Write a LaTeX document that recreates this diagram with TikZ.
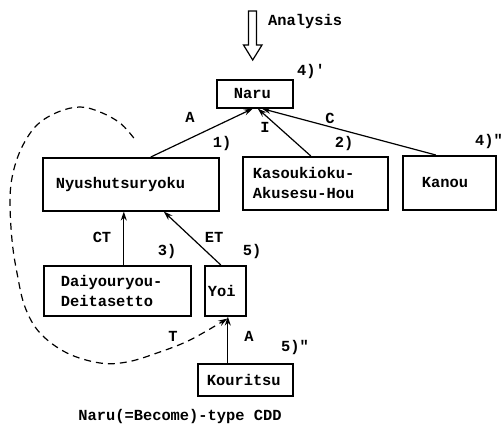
\documentclass[tikz,border=0pt]{standalone}
\usepackage{fontspec}
\setmonofont{Liberation Mono}
\usetikzlibrary{arrows.meta,calc}
\begin{document}
\begin{tikzpicture}[x=1pt,y=-1pt,
  every node/.style={font=\ttfamily\bfseries\fontsize{15.4}{20}\selectfont, inner sep=0pt},
  box/.style={draw, line width=1.6pt, anchor=north west, align=left, inner ysep=0pt},
  conn/.style={line width=1.2pt, -{Stealth[length=9pt,width=6pt]}},
  dashconn/.style={line width=1.2pt, dash pattern=on 7pt off 5pt, -{Stealth[length=9pt,width=6pt]}}]
\useasboundingbox (0,0) rectangle (503,433);
% hollow analysis arrow
\draw[line width=1.2pt, line join=miter] (248.5,11) -- (256.5,11) -- (256.5,45) -- (262,45) -- (252.7,60) -- (243.5,45) -- (248.5,45) -- cycle;
\node[anchor=west] (analysis) at (268,22) {Analysis};
% boxes
\node[box, minimum width=76pt, minimum height=28pt, text width=42pt, inner xsep=17pt] (naru) at (216,79) {Naru};
\node[box, minimum width=176pt, minimum height=53pt, text width=150pt, inner xsep=13pt] (nyu) at (42,157) {Nyushutsuryoku};
\node[box, minimum width=145pt, minimum height=53pt, text width=125pt, inner xsep=10pt] (kas) at (242,156) {Kasoukioku-\\Akusesu-Hou};
\node[box, minimum width=93pt, minimum height=54pt, text width=55pt, inner xsep=19pt] (kan) at (402,155) {Kanou};
\node[box, minimum width=147pt, minimum height=50pt, text width=113pt, inner xsep=17pt] (dai) at (43,265) {Daiyouryou-\\Deitasetto};
\node[box, minimum width=41pt, minimum height=50pt, text width=35pt, inner xsep=3pt] (yoi) at (204,265) {Yoi};
\node[box, minimum width=95pt, minimum height=32pt, text width=77pt, inner xsep=9pt] (kou) at (197,363) {Kouritsu};
% connectors
\draw[conn] ([xshift=20pt]nyu.north) -- ([xshift=-2pt]naru.south);
\draw[conn] ([xshift=-4.5pt]kas.north) -- ([xshift=3pt]naru.south);
\draw[conn] ([xshift=-13.5pt]kan.north) -- ([xshift=7pt]naru.south);
\draw[conn] ([xshift=6.5pt]dai.north) -- ([xshift=-7pt]nyu.south);
\draw[conn] ([xshift=-4.5pt]yoi.north) -- ([xshift=33pt]nyu.south);
\draw[conn] ([xshift=-17.5pt]kou.north) -- ([xshift=2.5pt]yoi.south);
\coordinate (tstart) at ([xshift=3pt,yshift=19pt]nyu.north);
\coordinate (tend) at ([xshift=2pt,yshift=-2pt]yoi.south);
\draw[dashconn] plot[smooth, tension=0.6] coordinates {(tstart) (120,123) (100,112) (80,107) (58,112) (37,125) (22,147) (13,173) (10,200) (12,240) (17,273) (25,307) (40,333) (67,353) (100,363) (127,362) (157,353) (190,340) (tend)};
% labels
\node (l4a) at (311,72) {4)'};
\node (lA) at (190,117) {A};
\node (lI) at (265,127) {I};
\node (lC) at (330,118) {C};
\node (l1) at (222,144) {1)};
\node (l2) at (344,144) {2)};
\node (l4b) at (489,142) {4)"};
\node (lCT) at (102,237) {CT};
\node (lET) at (214,237) {ET};
\node (l3) at (167,252) {3)};
\node (l5) at (252,252) {5)};
\node (lT) at (173,336) {T};
\node (lA2) at (249,336) {A};
\node (l5b) at (295,348) {5)"};
\node (caption) at (180,417) {Naru(=Become)-type CDD};
\end{tikzpicture}
\end{document}
